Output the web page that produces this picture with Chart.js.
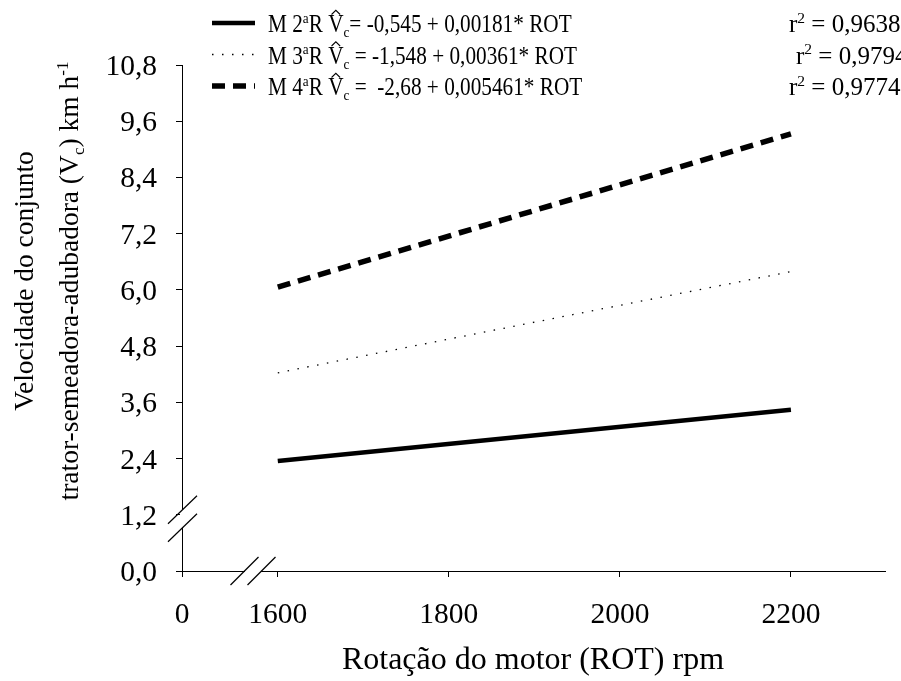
<!DOCTYPE html>
<html>
<head>
<meta charset="utf-8">
<script src="https://cdn.jsdelivr.net/npm/chart.js@4.4.1/dist/chart.umd.min.js"></script>
<style>
  html, body { margin: 0; padding: 0; background: #fff; }
  #wrap { width: 901px; height: 681px; }
</style>
</head>
<body>
<div id="wrap"><canvas id="chart" width="901" height="681"></canvas></div>
<script>
// values
const rotacao = [1600, 2200];
const vcM2 = [2.35, 3.44];
const vcM3 = [4.23, 6.39];
const vcM4 = [6.06, 9.33];

// x axis is broken between 0 and 1600: the "0" tick sits at this position
const xZeroPos = 1488;
const xTicks = [xZeroPos, 1600, 1800, 2000, 2200];
const xTickLabels = ['0', '1600', '1800', '2000', '2200'];
const yTicks = [0, 1.2, 2.4, 3.6, 4.8, 6.0, 7.2, 8.4, 9.6, 10.8];

const legendRows = [
  { mod: '2', eq: '= -0,545 + 0,00181* ROT', r2: '= 0,9638' },
  { mod: '3', eq: ' = -1,548 + 0,00361* ROT', r2: '= 0,9794' },
  { mod: '4', eq: ' =  -2,68 + 0,005461* ROT', r2: '= 0,9774' }
];

const FONT = '"Liberation Serif", "Times New Roman", serif';

function pts(xs, ys) {
  return xs.map((x, i) => ({ x: x, y: ys[i] }));
}

function partSize(p, size) {
  return (p.sub || p.sup) ? size * 0.62 : size;
}

function richWidth(ctx, parts, size) {
  let w = 0;
  parts.forEach(p => {
    ctx.font = partSize(p, size) + 'px ' + FONT;
    w += ctx.measureText(p.t).width;
  });
  return w;
}

// text made of parts (normal / sub / sup / hat), squeezed horizontally by sx
function drawRich(ctx, x, y, parts, size, align, sx) {
  sx = sx || 1;
  const w = richWidth(ctx, parts, size) * sx;
  let start = x;
  if (align === 'center') start = x - w / 2;
  if (align === 'right') start = x - w;
  ctx.save();
  ctx.translate(start, y);
  ctx.scale(sx, 1);
  ctx.textBaseline = 'alphabetic';
  ctx.textAlign = 'left';
  let cx = 0;
  parts.forEach(p => {
    let dy = 0;
    if (p.sub) dy = size * 0.2;
    if (p.sup) dy = -size * 0.38;
    ctx.font = partSize(p, size) + 'px ' + FONT;
    ctx.fillText(p.t, cx, dy);
    const pw = ctx.measureText(p.t).width;
    if (p.hat) {
      const top = -size * 0.7;
      ctx.beginPath();
      ctx.moveTo(cx + pw * 0.22, top);
      ctx.lineTo(cx + pw * 0.5, top - size * 0.17);
      ctx.lineTo(cx + pw * 0.78, top);
      ctx.lineWidth = 1.3;
      ctx.stroke();
    }
    cx += pw;
  });
  ctx.restore();
}

const TICK_SIZE = 29.5;
const LEG_SIZE = 25;

const overlay = {
  id: 'overlay',
  afterDraw(chart) {
    const ctx = chart.ctx;
    const xs = chart.scales.x, ys = chart.scales.y;
    const ax = xs.getPixelForValue(xZeroPos);
    const ay = ys.getPixelForValue(0);
    ctx.save();
    ctx.strokeStyle = '#000';
    ctx.fillStyle = '#000';

    // tick labels
    xTicks.forEach((v, i) => {
      drawRich(ctx, xs.getPixelForValue(v), ay + 52, [{ t: xTickLabels[i] }], TICK_SIZE, 'center', 1);
    });
    yTicks.forEach(v => {
      drawRich(ctx, 157, ys.getPixelForValue(v) + 10, [{ t: v.toFixed(1).replace('.', ',') }], TICK_SIZE, 'right', 1);
    });

    // axis breaks
    const yb = ys.getPixelForValue(1.2) + 4;
    ctx.fillStyle = '#fff';
    ctx.fillRect(ax - 2, yb - 9, 4, 18);
    ctx.fillStyle = '#000';
    ctx.lineWidth = 1.2;
    [-9, 9].forEach(d => {
      ctx.beginPath();
      ctx.moveTo(ax - 14, yb + d + 14);
      ctx.lineTo(ax + 15, yb + d - 14);
      ctx.stroke();
    });
    const xb = 253;
    ctx.fillStyle = '#fff';
    ctx.fillRect(xb - 8, ay - 2, 16, 4);
    ctx.fillStyle = '#000';
    [-8.5, 8.5].forEach(d => {
      ctx.beginPath();
      ctx.moveTo(xb + d - 14, ay + 14);
      ctx.lineTo(xb + d + 14, ay - 14);
      ctx.stroke();
    });

    // legend
    const ds = chart.data.datasets;
    const rowY = [32, 63.5, 95];
    const rX = [789, 796, 789];
    legendRows.forEach((row, i) => {
      const ly = rowY[i] - 9;
      ctx.beginPath();
      ctx.lineWidth = ds[i].borderWidth;
      ctx.setLineDash(ds[i].borderDash || []);
      ctx.moveTo(212, ly);
      ctx.lineTo(255, ly);
      ctx.stroke();
      ctx.setLineDash([]);
      drawRich(ctx, 268, rowY[i], [
        { t: 'M ' + row.mod }, { t: 'a', sup: true }, { t: 'R ' },
        { t: 'V', hat: true }, { t: 'c', sub: true }, { t: row.eq }
      ], LEG_SIZE, 'left', 0.85);
      drawRich(ctx, rX[i], rowY[i], [
        { t: 'r' }, { t: '2', sup: true }, { t: ' ' + row.r2 }
      ], LEG_SIZE, 'left', 1);
    });

    // x axis title
    drawRich(ctx, 533, 669, [{ t: 'Rotação do motor (ROT) rpm' }], 32, 'center', 1);

    // y axis title (two lines, rotated)
    const line1 = [{ t: 'Velocidade do conjunto' }];
    const line2 = [
      { t: 'trator-semeadora-adubadora (V' }, { t: 'c', sub: true },
      { t: ') km h' }, { t: '-1', sup: true }
    ];
    ctx.translate(0, 281);
    ctx.rotate(-Math.PI / 2);
    drawRich(ctx, 0, 33, line1, 27.5, 'center', 1);
    drawRich(ctx, 0, 78, line2, 27.5, 'center', 1);
    ctx.restore();
  }
};

new Chart(document.getElementById('chart'), {
  type: 'line',
  data: {
    datasets: [
      { data: pts(rotacao, vcM2), borderColor: '#000', borderWidth: 4.5 },
      { data: pts(rotacao, vcM3), borderColor: '#000', borderWidth: 1.3, borderDash: [1.5, 8.5] },
      { data: pts(rotacao, vcM4), borderColor: '#000', borderWidth: 5.5, borderDash: [13, 8] }
    ]
  },
  options: {
    responsive: false,
    animation: false,
    events: [],
    layout: { padding: { top: 65, right: 16, left: 0, bottom: 0 } },
    elements: { point: { radius: 0 }, line: { tension: 0, borderCapStyle: 'butt' } },
    plugins: { legend: { display: false }, tooltip: { enabled: false } },
    scales: {
      x: {
        type: 'linear',
        min: xZeroPos,
        max: 2310,
        afterBuildTicks: s => { s.ticks = xTicks.map(v => ({ value: v })); },
        afterFit: s => { s.height = 110; },
        ticks: { display: false },
        grid: { drawOnChartArea: false, color: '#000', tickLength: 6, lineWidth: 1 },
        border: { color: '#000', width: 1 }
      },
      y: {
        min: 0,
        max: 10.8,
        afterBuildTicks: s => { s.ticks = yTicks.map(v => ({ value: v })); },
        afterFit: s => { s.width = 182; },
        ticks: { display: false },
        grid: { drawOnChartArea: false, color: '#000', tickLength: 6, lineWidth: 1 },
        border: { color: '#000', width: 1 }
      }
    }
  },
  plugins: [overlay]
});
</script>
</body>
</html>
